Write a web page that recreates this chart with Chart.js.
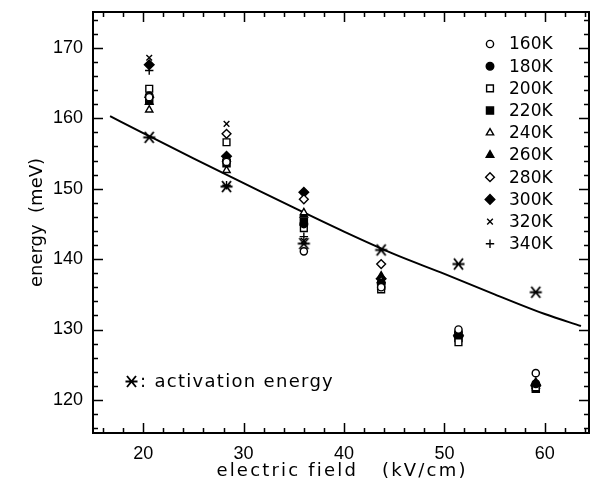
<!DOCTYPE html>
<html><head><meta charset="utf-8">
<script src="https://cdn.jsdelivr.net/npm/chart.js@4.4.1/dist/chart.umd.min.js"></script>
<style>html,body{margin:0;padding:0;background:#fff;}#wrap{width:597px;height:494px;}</style>
</head><body><div id="wrap"><canvas id="c" width="597" height="494"></canvas></div>
<script>
// ---- data ----
const FIELDS = [20.6, 28.3, 36.0, 43.7, 51.4, 59.1];            // electric field (kV/cm)
const TEMPS  = ['160K','180K','200K','220K','240K','260K','280K','300K','320K','340K'];
const E160 = [163.0, 153.8, 141.1, 136.0, 130.0, 123.8];
const E180 = [163.2, 154.0, 145.0, 136.6, 129.6, 122.3];
const E200 = [164.2, 156.6, 144.4, 135.7, 128.2, 121.8];
const E220 = [162.6, 153.6, 145.3, 136.2, 128.8, 121.6];
const E240 = [161.2, 152.6, 146.6, 137.0, 129.2, 122.0];
const E260 = [162.3, 154.2, 146.3, 137.6, 129.4, 122.5];
const E280 = [163.0, 157.8, 148.5, 139.3, 129.0, 122.2];
const E300 = [167.6, 154.6, 149.5, 137.2, 129.2, 122.0];
const E320 = [168.6, 159.2, 142.6, 136.8, 129.4, 122.3];
const E340 = [166.8, 150.5, 143.2, 136.5, 129.0, 122.0];
const ACT_ENERGY = [157.3, 150.3, 142.2, 141.3, 139.3, 135.3]; // activation energy
const FIT_X = [16.7, 20, 25, 30, 35, 40, 45, 50, 55, 60, 63.6];
const FIT_Y = [160.3, 157.9, 154.3, 150.8, 147.3, 143.9, 140.7, 137.9, 135.0, 132.2, 130.5];
const X_TICKS = [20, 30, 40, 50, 60];
const Y_TICKS = [120, 130, 140, 150, 160, 170];
const X_TITLE = 'electric field   (kV/cm)';
const Y_TITLE = 'energy  (meV)';
const NOTE = ': activation energy';

const FONT = 'Liberation Sans';
const FONT2 = 'DejaVu Sans';
const SERIES = [E160,E180,E200,E220,E240,E260,E280,E300,E320,E340];
const STYLES = [
  {ps:'circle',  r:3.6, fill:'#fff'},
  {ps:'circle',  r:3.8, fill:'#000'},
  {ps:'rect',    r:4.8, fill:'#fff'},
  {ps:'rect',    r:5.0, fill:'#000'},
  {ps:'triangle',r:4.2, fill:'#fff'},
  {ps:'triangle',r:4.4, fill:'#000'},
  {ps:'rectRot', r:4.4, fill:'#fff'},
  {ps:'rectRot', r:4.8, fill:'#000'},
  {ps:'crossRot',r:4.0, fill:'#000'},
  {ps:'cross',   r:4.2, fill:'#000'}
];

// star marker (x with horizontal bar)
function makeStar(){
  const c = document.createElement('canvas'); c.width = 15; c.height = 15;
  const g = c.getContext('2d'); g.strokeStyle = '#000'; g.lineWidth = 1.9;
  g.beginPath();
  g.moveTo(1.5,7.5); g.lineTo(13.5,7.5);
  g.moveTo(3,2); g.lineTo(12,13);
  g.moveTo(12,2); g.lineTo(3,13);
  g.stroke();
  return c;
}
const STAR = makeStar();

const pts = arr => FIELDS.map((x,i)=>({x, y:arr[i]}));
const datasets = SERIES.map((arr,i)=>({
  type:'scatter', label:TEMPS[i], data:pts(arr),
  pointStyle:STYLES[i].ps, pointRadius:STYLES[i].r,
  backgroundColor:STYLES[i].fill, borderColor:'#000', borderWidth:1.4,
  legendRow:i
}));
datasets.push({type:'scatter', label:'activation energy', data:pts(ACT_ENERGY),
  pointStyle:STAR, pointRadius:7, borderColor:'#000', backgroundColor:'#000'});
datasets.push({type:'line', label:'fit', data:FIT_X.map((x,i)=>({x, y:FIT_Y[i]})),
  borderColor:'#000', borderWidth:2, pointRadius:0, cubicInterpolationMode:'monotone', fill:false});

const framePlugin = {
  id:'frame',
  afterDraw(chart){
    const ctx = chart.ctx, a = chart.chartArea, xs = chart.scales.x, ys = chart.scales.y;
    ctx.save();
    ctx.strokeStyle = '#000'; ctx.lineWidth = 2;
    ctx.strokeRect(a.left, a.top, a.right - a.left, a.bottom - a.top);
    ctx.lineWidth = 1.5;
    ctx.beginPath();
    for (let v = 16; v <= 64; v += 2){
      const p = Math.round(xs.getPixelForValue(v)) + 0.5;
      const L = (v % 10 === 0) ? 10 : 5;
      ctx.moveTo(p, a.bottom); ctx.lineTo(p, a.bottom - L);
      ctx.moveTo(p, a.top); ctx.lineTo(p, a.top + L);
    }
    for (let v = 116; v <= 174; v += 2){
      const p = Math.round(ys.getPixelForValue(v)) + 0.5;
      const L = (v % 10 === 0) ? 10 : 5;
      ctx.moveTo(a.left, p); ctx.lineTo(a.left + L, p);
      ctx.moveTo(a.right, p); ctx.lineTo(a.right - L, p);
    }
    ctx.stroke();

    // legend
    ctx.font = '17px "' + FONT2 + '"';
    ctx.textBaseline = 'middle'; ctx.textAlign = 'left'; ctx.fillStyle = '#000';
    chart.data.datasets.forEach(ds => {
      if (ds.legendRow === undefined) return;
      const y = 44 + ds.legendRow * 22.2;
      ctx.fillStyle = ds.backgroundColor; ctx.strokeStyle = ds.borderColor; ctx.lineWidth = ds.borderWidth;
      Chart.helpers.drawPoint(ctx, {pointStyle:ds.pointStyle, radius:ds.pointRadius, borderWidth:ds.borderWidth, rotation:0}, 490, y);
      ctx.fillStyle = '#000';
      ctx.fillText(ds.label, 509, y + 1);
    });
    // annotation
    ctx.font = '18px "' + FONT2 + '"';
    ctx.letterSpacing = '1.3px';
    ctx.drawImage(STAR, 124, 374);
    ctx.fillText(NOTE, 140, 382);
    // x axis title
    ctx.letterSpacing = '2.2px';
    ctx.textAlign = 'center';
    ctx.fillText(X_TITLE, (a.left + a.right) / 2 + 1, 471);
    ctx.restore();
  }
};

new Chart(document.getElementById('c'), {
  type:'scatter',
  data:{datasets},
  options:{
    responsive:false, animation:false, devicePixelRatio:1,
    layout:{padding:{top:12, right:6, left:0, bottom:0}},
    plugins:{legend:{display:false}, tooltip:{enabled:false}},
    scales:{
      x:{type:'linear', min:15, max:64.4,
        afterBuildTicks:s=>{s.ticks = X_TICKS.map(v=>({value:v}));},
        afterFit:s=>{s.height = 61; s.paddingLeft = 0; s.paddingRight = 0;},
        grid:{display:false, drawTicks:false}, border:{display:false},
        ticks:{color:'#000', font:{family:FONT, size:18}, padding:10, maxRotation:0},
        title:{display:false, text:X_TITLE}
      },
      y:{type:'linear', min:115.3, max:175.1,
        afterBuildTicks:s=>{s.ticks = Y_TICKS.map(v=>({value:v}));},
        afterFit:s=>{s.width = 93; s.paddingTop = 0; s.paddingBottom = 0;},
        grid:{display:false, drawTicks:false}, border:{display:false},
        ticks:{color:'#000', font:{family:FONT, size:18}, padding:10},
        title:{display:true, text:Y_TITLE, color:'#000', font:{family:FONT2, size:18}, padding:{top:27, bottom:0}}
      }
    }
  },
  plugins:[framePlugin]
});
</script></body></html>
